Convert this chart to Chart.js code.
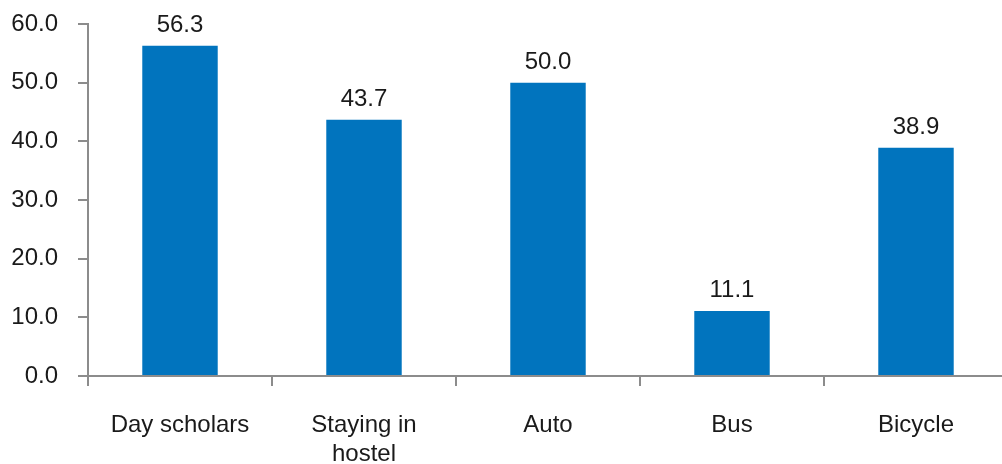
<!DOCTYPE html>
<html>
<head>
<meta charset="utf-8">
<script src="https://cdn.jsdelivr.net/npm/chart.js@4/dist/chart.umd.min.js"></script>
<style>
  html, body { margin: 0; padding: 0; background: #fff; overflow: hidden; }
  #wrap { width: 1010px; height: 464px; }
</style>
</head>
<body>
<div id="wrap"><canvas id="c" width="1010" height="464"></canvas></div>
<script>
// Categories and percentages
const categories = ['Day scholars', ['Staying in', 'hostel'], 'Auto', 'Bus', 'Bicycle'];
const values = [56.3, 43.7, 50.0, 11.1, 38.9];
const yTicks = [0, 10, 20, 30, 40, 50, 60];

const AXIS_GREY = '#8c8c8c';
const TEXT = '#1a1a1a';
const FONT = "'Liberation Sans', Arial, sans-serif";
const FONT_SIZE = 24;

// Value labels above each bar
const valueLabels = {
  id: 'valueLabels',
  afterDatasetsDraw(chart) {
    const ctx = chart.ctx;
    const meta = chart.getDatasetMeta(0);
    ctx.save();
    ctx.font = FONT_SIZE + 'px ' + FONT;
    ctx.fillStyle = TEXT;
    ctx.textAlign = 'center';
    ctx.textBaseline = 'alphabetic';
    meta.data.forEach((bar, i) => {
      ctx.fillText(values[i].toFixed(1), bar.x, bar.y - 14);
    });
    ctx.restore();
  }
};

new Chart(document.getElementById('c'), {
  type: 'bar',
  data: {
    labels: categories,
    datasets: [{
      data: values,
      backgroundColor: '#0174be',
      borderWidth: 0,
      barPercentage: 0.82,
      categoryPercentage: 0.5
    }]
  },
  options: {
    responsive: false,
    animation: false,
    events: [],
    layout: { padding: { top: 24, right: 2, left: 0, bottom: 0 } },
    plugins: { legend: { display: false }, tooltip: { enabled: false } },
    scales: {
      x: {
        grid: {
          offset: true,
          drawOnChartArea: false,
          drawTicks: true,
          tickLength: 10,
          color: AXIS_GREY,
          lineWidth: 2
        },
        border: { color: AXIS_GREY, width: 2 },
        ticks: {
          color: TEXT,
          font: { family: FONT, size: FONT_SIZE, lineHeight: 1.2 },
          padding: 25,
          maxRotation: 0,
          autoSkip: false
        },
        afterFit(scale) {
          scale.height = 88;
          scale.paddingLeft = 0;
          scale.paddingRight = 0;
        }
      },
      y: {
        min: 0,
        max: 60,
        afterBuildTicks(scale) { scale.ticks = yTicks.map(v => ({ value: v })); },
        grid: {
          drawOnChartArea: false,
          drawTicks: true,
          tickLength: 10,
          color: AXIS_GREY,
          lineWidth: 2
        },
        border: { color: AXIS_GREY, width: 2 },
        ticks: {
          color: TEXT,
          font: { family: FONT, size: FONT_SIZE },
          padding: 20,
          callback: v => Number(v).toFixed(1)
        },
        afterFit(scale) {
          scale.width = 88;
          scale.paddingTop = 0;
          scale.paddingBottom = 0;
        }
      }
    }
  },
  plugins: [valueLabels]
});
</script>
</body>
</html>
